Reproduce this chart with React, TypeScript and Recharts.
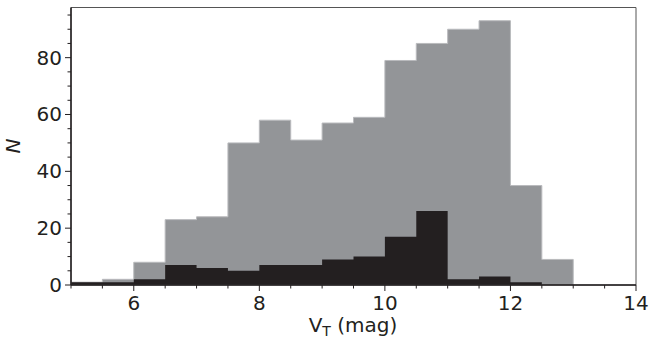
import React from 'react';
import { ComposedChart, Area, XAxis, YAxis, ReferenceArea, Label } from 'recharts';

// bin left edges (width 0.5 mag), last entry closes the histogram
const binEdges = [5, 5.5, 6, 6.5, 7, 7.5, 8, 8.5, 9, 9.5, 10, 10.5, 11, 11.5, 12, 12.5, 13];
const allCounts = [1, 2, 8, 23, 24, 50, 58, 51, 57, 59, 79, 85, 90, 93, 35, 9, 0];
const subCounts = [1, 1, 2, 7, 6, 5, 7, 7, 9, 10, 17, 26, 2, 3, 1, 0, 0];

const xTicks = [5, 5.5, 6, 6.5, 7, 7.5, 8, 8.5, 9, 9.5, 10, 10.5, 11, 11.5, 12, 12.5, 13, 13.5, 14];
const xLabels = [6, 8, 10, 12, 14];
const yTicks = [0, 5, 10, 15, 20, 25, 30, 35, 40, 45, 50, 55, 60, 65, 70, 75, 80, 85, 90, 95];
const yLabels = [0, 20, 40, 60, 80];

const data = binEdges.map((x, i) => ({ x, all: allCounts[i], sub: subCounts[i] }));

const FONT = 'DejaVu Sans, sans-serif';
const INK = '#231f20';

const XTick = (props: any) => {
  const { x, y, payload } = props;
  const major = xLabels.includes(payload.value);
  return (
    <g>
      <line x1={x} x2={x} y1={y} y2={y + (major ? 6 : 3.5)} stroke={INK} strokeWidth={1} />
      {major && (
        <text x={x} y={y + 25} textAnchor="middle" fontSize={20} fontFamily={FONT} fill={INK}>
          {payload.value}
        </text>
      )}
    </g>
  );
};

const YTick = (props: any) => {
  const { x, y, payload } = props;
  const major = yLabels.includes(payload.value);
  return (
    <g>
      <line x1={x} x2={x - (major ? 6 : 3.5)} y1={y} y2={y} stroke={INK} strokeWidth={1} />
      {major && (
        <text x={x - 9} y={y + 7} textAnchor="end" fontSize={20} fontFamily={FONT} fill={INK}>
          {payload.value}
        </text>
      )}
    </g>
  );
};

export default function App() {
  return (
    <div style={{ position: 'absolute', left: 0, top: 0, background: '#fff' }}>
      <ComposedChart width={649} height={345} data={data} margin={{ top: 7.5, right: 13, bottom: 0, left: 11 }}>
        <XAxis
          dataKey="x"
          type="number"
          domain={[5, 14]}
          ticks={xTicks}
          interval={0}
          tick={<XTick />}
          tickLine={false}
          tickSize={0}
          tickMargin={0}
          height={60}
          axisLine={{ stroke: INK, strokeWidth: 1.5 }}
          allowDataOverflow
        >
          <Label
            content={() => (
              <text x={353} y={332} textAnchor="middle" fontSize={20} fontFamily={FONT} fill={INK}>
                V<tspan fontSize={14} dy={4}>T</tspan>
                <tspan dy={-4}> (mag)</tspan>
              </text>
            )}
          />
        </XAxis>
        <YAxis
          type="number"
          domain={[0, 97.65]}
          ticks={yTicks}
          interval={0}
          tick={<YTick />}
          tickLine={false}
          tickSize={0}
          tickMargin={0}
          width={60}
          axisLine={{ stroke: INK, strokeWidth: 1.5 }}
          allowDataOverflow
        >
          <Label
            content={() => (
              <text
                x={19.5}
                y={146}
                transform="rotate(-90 19.5 146)"
                textAnchor="middle"
                fontSize={20}
                fontStyle="italic"
                fontFamily={FONT}
                fill={INK}
              >
                N
              </text>
            )}
          />
        </YAxis>
        <Area
          type="stepAfter"
          dataKey="all"
          fill="#939598"
          fillOpacity={1}
          stroke="#b9babd"
          strokeWidth={1}
          isAnimationActive={false}
          dot={false}
          activeDot={false}
        />
        <Area
          type="stepAfter"
          dataKey="sub"
          fill={INK}
          fillOpacity={1}
          stroke="none"
          isAnimationActive={false}
          dot={false}
          activeDot={false}
        />
        <ReferenceArea x1={5} x2={14} y1={0} y2={97.65} fill="none" stroke="#555" strokeWidth={1} />
      </ComposedChart>
    </div>
  );
}
